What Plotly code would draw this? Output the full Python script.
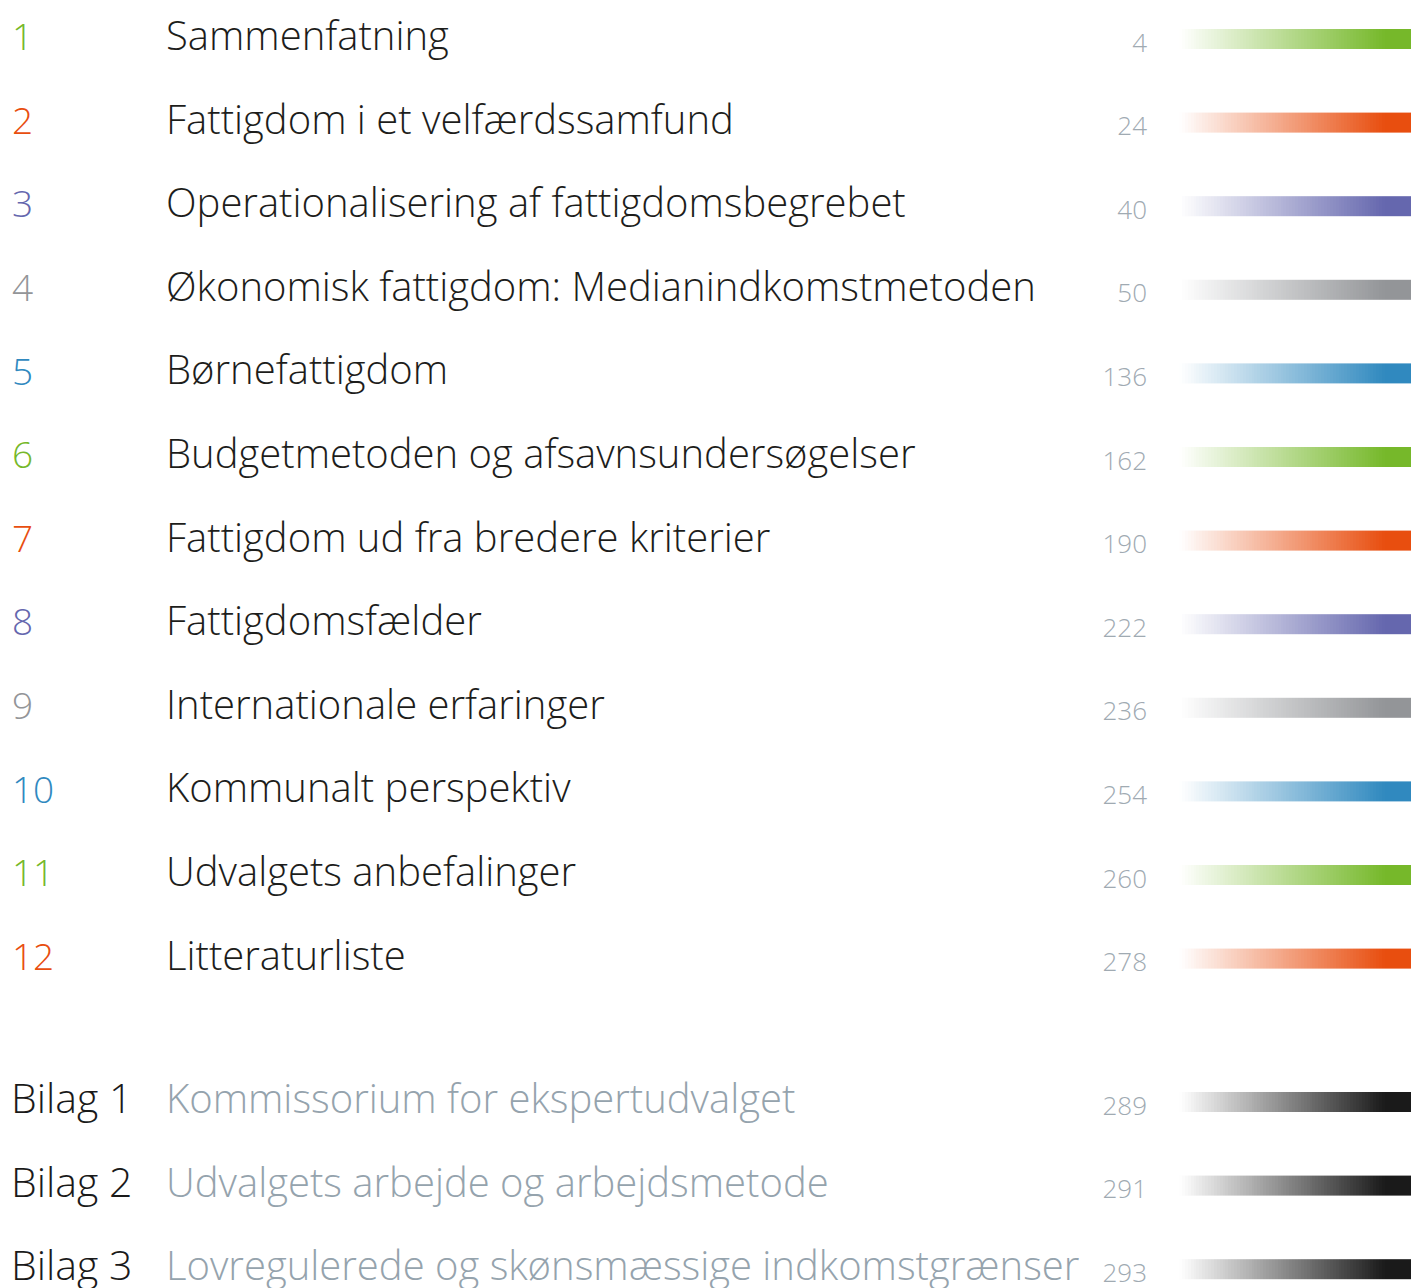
"""Table of contents with gradient bars, drawn with plotly."""

import numpy as np
import plotly.graph_objects as go

# chapter data
chapter_nums = ['1', '2', '3', '4', '5', '6', '7', '8', '9', '10', '11', '12']
chapter_titles = [
    'Sammenfatning',
    'Fattigdom i et velfærdssamfund',
    'Operationalisering af fattigdomsbegrebet',
    'Økonomisk fattigdom: Medianindkomstmetoden',
    'Børnefattigdom',
    'Budgetmetoden og afsavnsundersøgelser',
    'Fattigdom ud fra bredere kriterier',
    'Fattigdomsfælder',
    'Internationale erfaringer',
    'Kommunalt perspektiv',
    'Udvalgets anbefalinger',
    'Litteraturliste',
]
chapter_pages = ['4', '24', '40', '50', '136', '162', '190', '222', '236', '254', '260', '278']
chapter_colors = ['#76b82a', '#e84e0f', '#6567ae', '#939598', '#3089bf',
                  '#76b82a', '#e84e0f', '#6567ae', '#939598', '#3089bf',
                  '#76b82a', '#e84e0f']

# appendix data
bilag_labels = ['Bilag 1', 'Bilag 2', 'Bilag 3']
bilag_titles = [
    'Kommissorium for ekspertudvalget',
    'Udvalgets arbejde og arbejdsmetode',
    'Lovregulerede og skønsmæssige indkomstgrænser',
]
bilag_pages = ['289', '291', '293']
bilag_color = '#1a1a1a'

W, H = 1411, 1288
ROW = 83.6
y_chap = [37 + i * ROW for i in range(len(chapter_nums))]
y_bil = [1100 + i * ROW for i in range(len(bilag_labels))]

dark = '#1d1d1b'
grey_title = '#95a3ad'
grey_page = '#a0aab2'
FONT = 'Open Sans'

fig = go.Figure()

# gradient bars (fade from white on the left to full colour on the right)
bar_x0, bar_x1 = 1150, 1411
ncell = 90
dx = (bar_x1 - bar_x0) / ncell
ramp = np.linspace(0, 1, ncell)
for y, col in zip(y_chap + y_bil, chapter_colors + [bilag_color] * len(bilag_labels)):
    fig.add_trace(go.Heatmap(
        z=[ramp], x0=bar_x0 + dx / 2, dx=dx, y0=y + 2, dy=20,
        colorscale=[[0, '#ffffff'], [0.11, '#ffffff'], [0.905, col], [1, col]],
        zmin=0, zmax=1, showscale=False, hoverinfo='skip',
    ))

# chapter numbers
fig.add_trace(go.Scatter(
    x=[12] * len(chapter_nums), y=[y + 4 for y in y_chap], text=chapter_nums,
    mode='text', textposition='middle right',
    textfont=dict(family=FONT, size=37, color=chapter_colors, weight=300),
    hoverinfo='skip',
))
# chapter titles
fig.add_trace(go.Scatter(
    x=[166] * len(chapter_titles), y=[y + 3 for y in y_chap], text=chapter_titles,
    mode='text', textposition='middle right',
    textfont=dict(family=FONT, size=40, color=dark, weight=300),
    hoverinfo='skip',
))
# bilag labels
fig.add_trace(go.Scatter(
    x=[11] * len(bilag_labels), y=[y + 3 for y in y_bil], text=bilag_labels,
    mode='text', textposition='middle right',
    textfont=dict(family=FONT, size=41, color=bilag_color, weight=300),
    hoverinfo='skip',
))
fig.add_trace(go.Scatter(
    x=[166] * len(bilag_titles), y=[y + 3 for y in y_bil], text=bilag_titles,
    mode='text', textposition='middle right',
    textfont=dict(family=FONT, size=40, color=grey_title, weight=300),
    hoverinfo='skip',
))
# page numbers
fig.add_trace(go.Scatter(
    x=[1147] * (len(chapter_pages) + len(bilag_pages)),
    y=[y + 8 for y in y_chap + y_bil],
    text=chapter_pages + bilag_pages, mode='text',
    textposition='middle left',
    textfont=dict(family=FONT, size=26, color=grey_page, weight=300),
    hoverinfo='skip',
))

fig.update_layout(
    width=W, height=H,
    margin=dict(l=0, r=0, t=0, b=0),
    paper_bgcolor='white', plot_bgcolor='white',
    showlegend=False,
    xaxis=dict(range=[0, W], visible=False, fixedrange=True),
    yaxis=dict(range=[H, 0], visible=False, fixedrange=True),
)

fig.write_html("out.html", config={'displayModeBar': False},
               post_script="document.body.style.margin='0';")
